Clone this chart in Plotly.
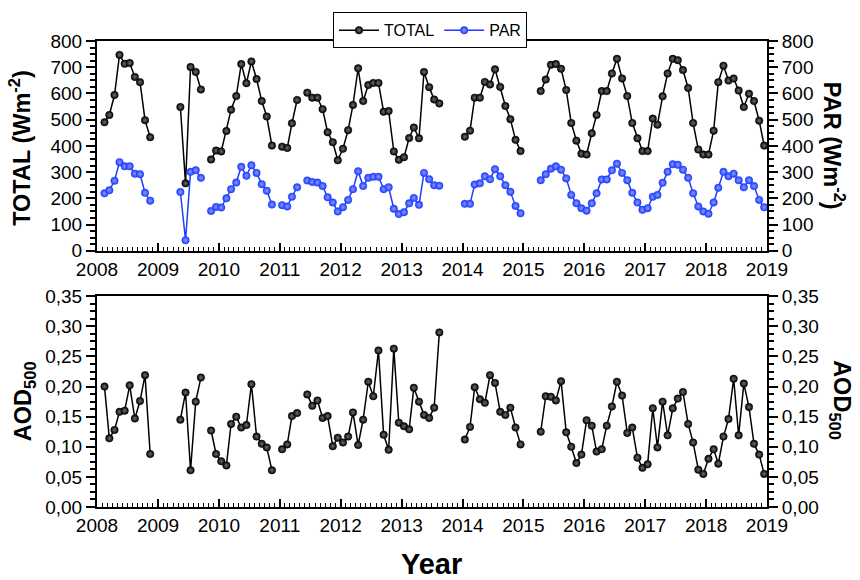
import pandas as pd
import plotly.graph_objects as go

# Monthly means, February 2008 - December 2018 (None = no data that month)
START_MONTH = "2008-02-01"

TOTAL = [
    490, 518, 594, 747, 713, 716, 663, 643, 498, 433, None,                 # 2008 Feb-Dec
    None, None, None, None, 548, 257, 701, 682, 615, None, 348, 382,       # 2009
    379, 457, 538, 590, 712, 639, 722, 655, 571, 512, 401, None,           # 2010
    397, 392, 486, 575, None, 603, 584, 584, 540, 452, 414, 345,           # 2011
    389, 460, 556, 696, 571, 632, 640, 640, 530, 533, 379, 347,            # 2012
    357, 430, 470, 429, 682, 624, 577, 562, None, None, None, None,        # 2013
    435, 458, 584, 584, 644, 634, 692, 625, 552, 502, 423, 380,            # 2014
    None, None, None, 609, 653, 709, 712, 694, 613, 487, 420, 370,         # 2015
    367, 448, 518, 609, 609, 676, 732, 657, 590, 487, 429, 380,            # 2016
    380, 504, 481, 589, 676, 732, 727, 689, 621, 487, 386, 367,            # 2017
    367, 458, 643, 706, 649, 657, 611, 548, 599, 571, 496, 401,            # 2018
]

PAR = [
    219, 231, 267, 338, 322, 322, 294, 292, 221, 191, None,                 # 2008 Feb-Dec
    None, None, None, None, 224, 40, 301, 307, 278, None, 152, 167,        # 2009
    165, 200, 235, 260, 320, 286, 326, 297, 254, 229, 176, None,           # 2010
    174, 169, 206, 242, None, 268, 262, 260, 247, 204, 184, 150,           # 2011
    166, 194, 235, 303, 247, 278, 282, 282, 235, 242, 160, 140,            # 2012
    147, 181, 201, 175, 297, 273, 250, 248, None, None, None, None,        # 2013
    179, 179, 253, 257, 284, 273, 311, 284, 250, 225, 171, 143,            # 2014
    None, None, None, 269, 292, 313, 322, 309, 276, 213, 181, 162,         # 2015
    153, 181, 219, 272, 272, 307, 332, 297, 269, 221, 184, 156,            # 2016
    162, 206, 213, 259, 301, 330, 328, 309, 278, 219, 169, 150,            # 2017
    141, 184, 240, 301, 284, 294, 269, 242, 269, 247, 194, 166,            # 2018
]

AOD500 = [
    0.200, 0.114, 0.128, 0.158, 0.160, 0.202, 0.147, 0.176, 0.219, 0.088, None,          # 2008 Feb-Dec
    None, None, None, None, 0.145, 0.190, 0.061, 0.175, 0.215, None, 0.127, 0.088,      # 2009
    0.076, 0.069, 0.138, 0.150, 0.132, 0.136, 0.204, 0.117, 0.105, 0.099, 0.061, None,  # 2010
    0.096, 0.104, 0.151, 0.156, None, 0.187, 0.168, 0.177, 0.148, 0.151, 0.101, 0.115,  # 2011
    0.107, 0.117, 0.157, 0.103, 0.145, 0.208, 0.184, 0.260, 0.120, 0.095, 0.263, 0.140, # 2012
    0.134, 0.129, 0.198, 0.175, 0.153, 0.148, 0.165, 0.290, None, None, None, None,     # 2013
    0.112, 0.133, 0.199, 0.179, 0.173, 0.219, 0.206, 0.158, 0.153, 0.165, 0.132, 0.104, # 2014
    None, None, None, 0.125, 0.184, 0.183, 0.177, 0.209, 0.124, 0.100, 0.073, 0.087,    # 2015
    0.144, 0.135, 0.092, 0.096, 0.135, 0.167, 0.208, 0.185, 0.123, 0.132, 0.082, 0.065, # 2016
    0.071, 0.164, 0.099, 0.175, 0.119, 0.164, 0.180, 0.191, 0.138, 0.107, 0.062, 0.055, # 2017
    0.080, 0.096, 0.072, 0.117, 0.146, 0.213, 0.119, 0.205, 0.166, 0.105, 0.087, 0.055, # 2018
]

# mid-month dates for each value
dates = pd.date_range(START_MONTH, periods=len(TOTAL), freq="MS") + pd.Timedelta(days=14)

FONT = "Liberation Sans, Arial, sans-serif"
BLACK = "#000000"
BLUE = "#1f3cff"

fig = go.Figure()


def ball(color, shine):
    return dict(size=7.5, color=color, line=dict(color=color, width=0.5),
                gradient=dict(type="radial", color=shine))


fig.add_trace(go.Scatter(x=dates, y=TOTAL, name="TOTAL", mode="lines+markers",
                         line=dict(color=BLACK, width=1.5), marker=ball(BLACK, "#707070"),
                         xaxis="x", yaxis="y"))
fig.add_trace(go.Scatter(x=dates, y=PAR, name="PAR", mode="lines+markers",
                         line=dict(color=BLUE, width=1.5), marker=ball(BLUE, "#8a9cff"),
                         xaxis="x", yaxis="y3"))
fig.add_trace(go.Scatter(x=dates, y=AOD500, name="AOD500", mode="lines+markers", showlegend=False,
                         line=dict(color=BLACK, width=1.5), marker=ball(BLACK, "#707070"),
                         xaxis="x2", yaxis="y2"))
fig.add_trace(go.Scatter(x=[None], y=[None], showlegend=False, hoverinfo="skip",
                         xaxis="x2", yaxis="y4"))

# plot area in pixels
L, R, T, B = 97, 767, 36, 507
W, H = 860, 580
ph = B - T
top_dom = [(B - 248) / ph, 1.0]
bot_dom = [0.0, (B - 294) / ph]

tickfont = dict(family=FONT, size=19, color="black")

xcommon = dict(type="date", range=["2008-01-01", "2019-01-01"], tick0="2008-01-01", dtick="M12",
               tickformat="%Y", ticks="inside", ticklen=8, tickwidth=1.5, tickcolor="black",
               showline=True, linewidth=2, linecolor="black", mirror=True, showgrid=False,
               zeroline=False, tickfont=tickfont, ticklabelstandoff=0,
               minor=dict(dtick="M1", ticks="inside", ticklen=4, tickwidth=1, tickcolor="black",
                          showgrid=False))

ycommon = dict(ticks="outside", ticklen=9, tickwidth=1.5, tickcolor="black", showline=True,
               linewidth=2, linecolor="black", showgrid=False, zeroline=False, tickfont=tickfont)

fig.update_layout(
    width=W, height=H,
    margin=dict(l=L, r=W - R, t=T, b=H - B),
    paper_bgcolor="white", plot_bgcolor="white",
    separators=",.",
    font=dict(family=FONT, color="black"),
    xaxis=dict(**xcommon, domain=[0, 1], anchor="y"),
    xaxis2=dict(**xcommon, domain=[0, 1], anchor="y2"),
    yaxis=dict(**ycommon, domain=top_dom, anchor="x", range=[0, 800], dtick=100,
               minor=dict(dtick=25, ticks="outside", ticklen=5, tickcolor="black", showgrid=False)),
    yaxis3=dict(**ycommon, overlaying="y", side="right", anchor="x", range=[0, 800], dtick=100,
                minor=dict(dtick=25, ticks="outside", ticklen=5, tickcolor="black", showgrid=False)),
    yaxis2=dict(**ycommon, domain=bot_dom, anchor="x2", range=[0, 0.35], dtick=0.05,
                tickformat=".2f",
                minor=dict(dtick=0.0125, ticks="outside", ticklen=5, tickcolor="black",
                           showgrid=False)),
    yaxis4=dict(**ycommon, overlaying="y2", side="right", anchor="x2", range=[0, 0.35],
                dtick=0.05, tickformat=".2f",
                minor=dict(dtick=0.0125, ticks="outside", ticklen=5, tickcolor="black",
                           showgrid=False)),
    legend=dict(orientation="h", x=(430 - L) / (R - L), xanchor="center",
                y=(B - 7) / ph, yanchor="top", bordercolor="black", borderwidth=1,
                bgcolor="white", font=dict(family=FONT, size=16, color="black"),
                itemwidth=40, tracegroupgap=0),
    showlegend=True,
)


def px(xp):
    return (xp - L) / (R - L)


def py(yp):
    return (B - yp) / ph


titles = [
    ("<b>TOTAL (Wm<sup>-2</sup>)</b>", 20, 144, -90, 23.5),
    ("<b>PAR (Wm<sup>-2</sup>)</b>", 834, 142, 90, 23.5),
    ("<b>AOD<sub>500</sub></b>", 24, 400, -90, 23.5),
    ("<b>AOD<sub>500</sub></b>", 841, 399, 90, 23.5),
    ("<b>Year</b>", 431, 565, 0, 29),
]
for text, xp, yp, ang, size in titles:
    fig.add_annotation(text=text, xref="paper", yref="paper", x=px(xp), y=py(yp),
                       xanchor="center", yanchor="middle", textangle=ang, showarrow=False,
                       font=dict(family=FONT, size=size, color="black"))

fig.write_html("out.html")
